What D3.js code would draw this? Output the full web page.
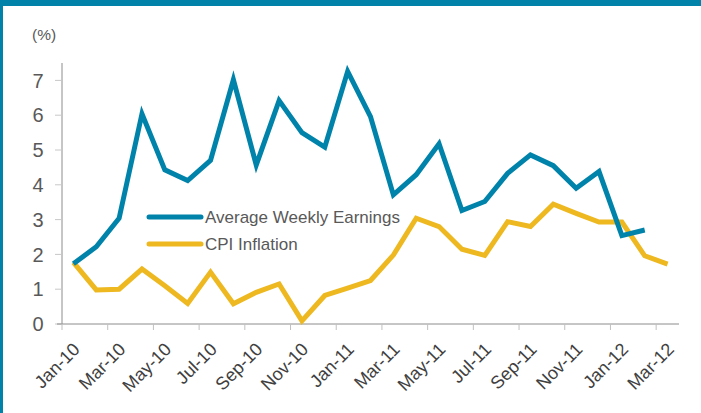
<!DOCTYPE html>
<html>
<head>
<meta charset="utf-8">
<script src="https://cdn.jsdelivr.net/npm/d3@7/dist/d3.min.js"></script>
<style>
  body { margin: 0; background: #fff; }
  svg { display: block; font-family: "Liberation Sans", Arial, sans-serif; }
</style>
</head>
<body>
<div id="chart"></div>
<script>
var months = ["Jan-10","Feb-10","Mar-10","Apr-10","May-10","Jun-10","Jul-10","Aug-10","Sep-10","Oct-10","Nov-10","Dec-10",
    "Jan-11","Feb-11","Mar-11","Apr-11","May-11","Jun-11","Jul-11","Aug-11","Sep-11","Oct-11","Nov-11","Dec-11",
    "Jan-12","Feb-12","Mar-12"];

var earnings = [1.73, 2.22, 3.04, 6.04, 4.43, 4.12, 4.70, 7.02, 4.57, 6.42, 5.50, 5.08,
    7.26, 5.96, 3.71, 4.29, 5.18, 3.26, 3.52, 4.33, 4.86, 4.55, 3.90, 4.38,
    2.54, 2.70, null];

var cpi = [1.77, 0.98, 1.00, 1.58, 1.10, 0.59, 1.49, 0.58, 0.91, 1.15, 0.09, 0.82,
    1.03, 1.25, 1.98, 3.04, 2.80, 2.15, 1.97, 2.94, 2.80, 3.44, 3.18, 2.93,
    2.93, 1.96, 1.72];

var yTicks = [0, 1, 2, 3, 4, 5, 6, 7];

var series = [
    {name: "Average Weekly Earnings", values: earnings, color: "#0083aa"},
    {name: "CPI Inflation", values: cpi, color: "#edb820"}
];

var W = 701, H = 413;
var margin = {top: 63, right: 22, bottom: 89, left: 62};

var svg = d3.select("#chart").append("svg")
    .attr("width", W)
    .attr("height", H);

// frame
svg.append("rect").attr("x", 0).attr("y", 0).attr("width", W).attr("height", 6).attr("fill", "#0082a9");
svg.append("rect").attr("x", 0).attr("y", 0).attr("width", 3).attr("height", H).attr("fill", "#0082a9");

var x = d3.scaleBand()
    .domain(months)
    .range([margin.left, W - margin.right]);

var y = d3.scaleLinear()
    .domain([0, 7.5])
    .range([H - margin.bottom, margin.top]);

var g = svg.append("g");

// y axis
g.append("line")
    .attr("x1", margin.left).attr("x2", margin.left)
    .attr("y1", y(7.5)).attr("y2", y(0))
    .attr("stroke", "#8c8c8c").attr("stroke-width", 1);

g.selectAll(".ytick")
    .data(yTicks)
    .enter().append("line")
    .attr("x1", margin.left - 7).attr("x2", margin.left)
    .attr("y1", function(d) { return y(d); })
    .attr("y2", function(d) { return y(d); })
    .attr("stroke", "#c8c8c8").attr("stroke-width", 1);

g.selectAll(".ylab")
    .data(yTicks)
    .enter().append("text")
    .attr("class", "ylab")
    .attr("x", 38)
    .attr("y", function(d) { return y(d); })
    .attr("dy", "0.36em")
    .attr("text-anchor", "middle")
    .attr("font-size", 20)
    .attr("fill", "#595959")
    .text(function(d) { return d; });

// x axis
g.append("line")
    .attr("x1", margin.left - 5).attr("x2", W - margin.right)
    .attr("y1", y(0)).attr("y2", y(0))
    .attr("stroke", "#8c8c8c").attr("stroke-width", 1);

var tickMonths = months.filter(function(d, i) { return i % 2 === 0; });

g.selectAll(".xtick")
    .data(tickMonths)
    .enter().append("line")
    .attr("x1", function(d) { return x(d); })
    .attr("x2", function(d) { return x(d); })
    .attr("y1", y(0)).attr("y2", y(0) + 6)
    .attr("stroke", "#c0c0c0").attr("stroke-width", 1);

g.selectAll(".xlab")
    .data(tickMonths)
    .enter().append("text")
    .attr("class", "xlab")
    .attr("transform", function(d) {
        return "translate(" + (x(d) + x.bandwidth() / 2 + 3) + "," + (y(0) + 22) + ") rotate(-45)";
    })
    .attr("text-anchor", "end")
    .attr("dy", "0.35em")
    .attr("font-size", 18)
    .attr("fill", "#404040")
    .text(function(d) { return d; });

// unit label
svg.append("text")
    .attr("x", 32).attr("y", 40)
    .attr("font-size", 15.5)
    .attr("fill", "#595959")
    .text("(%)");

// lines
var line = d3.line()
    .defined(function(d) { return d != null; })
    .x(function(d, i) { return x(months[i]) + x.bandwidth() / 2; })
    .y(function(d) { return y(d); });

g.selectAll(".series")
    .data(series.slice().reverse())
    .enter().append("path")
    .attr("class", "series")
    .attr("fill", "none")
    .attr("stroke", function(d) { return d.color; })
    .attr("stroke-width", 5)
    .attr("stroke-linejoin", "miter")
    .attr("d", function(d) { return line(d.values); });

// legend
var legend = svg.append("g");
series.forEach(function(s, i) {
    var ly = 217 + i * 27;
    legend.append("line")
        .attr("x1", 149).attr("x2", 201)
        .attr("y1", ly).attr("y2", ly)
        .attr("stroke", s.color).attr("stroke-width", 5)
        .attr("stroke-linecap", "round");
    legend.append("text")
        .attr("x", 205).attr("y", ly)
        .attr("dy", "0.36em")
        .attr("font-size", 17)
        .attr("fill", "#595959")
        .text(s.name);
});
</script>
</body>
</html>
